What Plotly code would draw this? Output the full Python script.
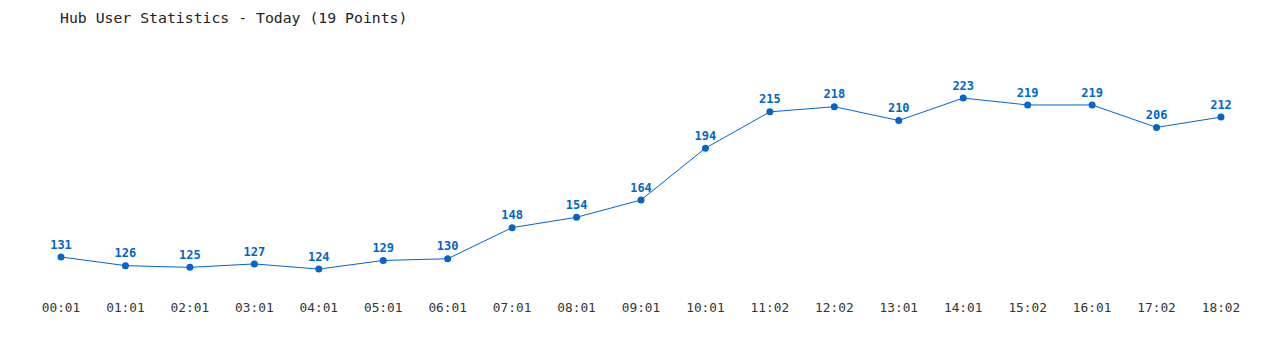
import plotly.graph_objects as go

times = ["00:01", "01:01", "02:01", "03:01", "04:01", "05:01", "06:01", "07:01", "08:01", "09:01",
         "10:01", "11:02", "12:02", "13:01", "14:01", "15:02", "16:01", "17:02", "18:02"]
users = [131, 126, 125, 127, 124, 129, 130, 148, 154, 164, 194, 215, 218, 210, 223, 219, 219, 206, 212]

blue = "#0066cc"
fig = go.Figure()
fig.add_trace(go.Scatter(
    x=list(range(len(times))), y=users,
    mode="lines+markers+text",
    line=dict(color=blue, width=1),
    marker=dict(color=blue, size=7),
    text=[str(v) for v in users],
    textposition="top center",
    textfont=dict(family="DejaVu Sans Mono", size=12, color=blue, weight="bold"),
    cliponaxis=False,
    hoverinfo="skip",
))

fig.update_layout(
    width=1280, height=350,
    margin=dict(l=61, r=59, t=40, b=60),
    paper_bgcolor="white", plot_bgcolor="white",
    showlegend=False,
    title=dict(text="Hub User Statistics - Today (19 Points)",
               font=dict(family="DejaVu Sans Mono", size=14.8, color="#222"),
               x=60/1280, xanchor="left", xref="container",
               y=1-18/350, yanchor="middle", yref="container"),
    xaxis=dict(range=[0, 18], tickmode="array", tickvals=list(range(len(times))), ticktext=times,
               showgrid=False, zeroline=False, showline=False, ticks="",
               ticklabelstandoff=8,
               tickfont=dict(family="DejaVu Sans Mono", size=12.8, color="#333")),
    yaxis=dict(range=[111.9, 256.6], visible=False, showgrid=False, zeroline=False),
)
fig.write_html("out.html")
